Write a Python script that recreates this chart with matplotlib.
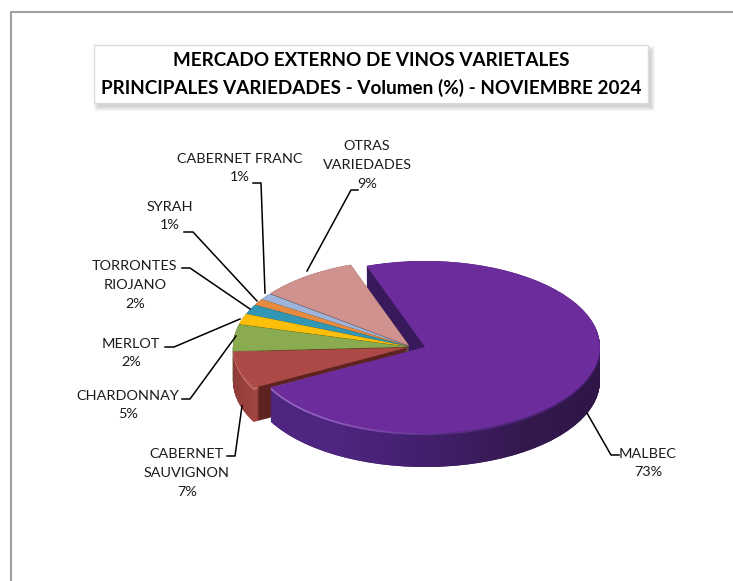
import numpy as np
import matplotlib
matplotlib.use('Agg')
import matplotlib.pyplot as plt
from matplotlib.patches import Rectangle
from matplotlib.path import Path
from matplotlib.colors import LinearSegmentedColormap

# slices, clockwise from the exploded one
varieties = ['MALBEC', 'CABERNET\nSAUVIGNON', 'CHARDONNAY', 'MERLOT',
             'TORRONTES\nRIOJANO', 'SYRAH', 'CABERNET FRANC', 'OTRAS\nVARIEDADES']
shares = [72.6, 7.0, 5.0, 2.0, 1.8, 1.2, 1.2, 9.2]
percent_labels = ['73%', '7%', '5%', '2%', '2%', '1%', '1%', '9%']
top_colors = ['#6c2c9c', '#ab4a46', '#8aab50', '#fdbf0a', '#3197b4', '#e58a3e', '#9db5dc', '#cf928f']
wall_colors = ['#381a5c', '#5e2320', '#4e6328', '#8a6a00', '#1d5c6e', '#84501f', '#5b6a80', '#6b4a4a']

W, H = 733, 581
RX, RY = 175.0, 86.0
THICK = 34
CENTER_REST = (411, 347)
CENTER_MALBEC = (425, 347)
START = 109.5

fig = plt.figure(figsize=(W/100, H/100), dpi=100)
fig.patch.set_facecolor('white')

# pie axes: one data unit is RX px across and RY px down, so the pie lies flat
ax = fig.add_axes([0, 0, 1, 1])
ax.set_facecolor('none')

def px(x, y):
    return (x - CENTER_REST[0])/RX, (CENTER_REST[1] - y)/RY

def draw_slice(i, center, color):
    wedges, _ = ax.pie(shares, radius=1, center=center, startangle=START, counterclock=False,
                       colors=[color]*len(shares), wedgeprops={'linewidth': 0})
    for j, w in enumerate(wedges):
        if j != i:
            w.remove()
    return wedges[i]

def gradient_wall(i, center, xs, colors, ymin_px=None, layers=THICK):
    # layers of the slice, filled with a left-right gradient
    paths = []
    for k in range(layers + 1):
        c = (center[0], center[1] - k/RY)
        w = draw_slice(i, c, 'none')
        paths.append(w.get_path().deepcopy())
        w.remove()
    clip = Path.make_compound_path(*paths)
    x0, _ = px(xs[0], 0)
    x1, _ = px(xs[-1], 0)
    y_top = px(0, ymin_px if ymin_px else 200)[1]
    y_bot = px(0, 520)[1]
    stops = [(x - xs[0])/(xs[-1] - xs[0]) for x in xs]
    cmap = LinearSegmentedColormap.from_list('wall', list(zip(stops, colors)), N=512)
    im = ax.imshow(np.linspace(0, 1, 512)[None, :], extent=(x0, x1, y_bot, y_top), cmap=cmap,
                   aspect='auto', origin='upper', interpolation='bilinear', zorder=1)
    im.set_clip_path(clip, ax.transData)
    return im

c_rest = px(*CENTER_REST)
c_malbec = px(*CENTER_MALBEC)

zo = 1
# malbec wall first: only its cut face shows, in the notch next to OTRAS
gradient_wall(0, c_malbec, [230, 620], ['#381a5c', '#381a5c'])

# rest of the pie, back to front
for i in [7, 6, 5, 4, 3, 2, 1]:
    zo += 1
    gap = 0.018
    mid = np.radians(START - 3.6*(sum(shares[:i]) + shares[i]/2))
    c = (c_rest[0] + gap*np.cos(mid), c_rest[1] + gap*np.sin(mid))
    if i == 1:
        im = gradient_wall(i, c, [230, 257, 259, 420],
                           ['#8c3a36', '#a34642', '#5e2320', '#5e2320'])
    else:
        im = gradient_wall(i, c, [230, 420], [wall_colors[i], wall_colors[i]])
    im.set_zorder(zo)
    if i == 1:
        # lighter rim along the front edge
        zo += 1
        gradient_wall(i, c, [230, 257, 259, 420], ['#c4716c', '#c4716c', '#5e2320', '#5e2320'],
                      layers=2).set_zorder(zo)
    zo += 1
    draw_slice(i, c, top_colors[i]).set_zorder(zo)

# malbec front wall, rim and top
zo += 1
gradient_wall(0, c_malbec, [262, 330, 430, 520, 600],
              ['#4e2580', '#4f2682', '#42206c', '#34194f', '#2e1648'], ymin_px=362).set_zorder(zo)
zo += 1
gradient_wall(0, c_malbec, [262, 340, 450, 600],
              ['#9c6fc6', '#8a55b8', '#5c2c88', '#3a1c60'], ymin_px=362, layers=2).set_zorder(zo)
zo += 1
draw_slice(0, c_malbec, top_colors[0]).set_zorder(zo)

ax.set_aspect('auto')
ax.set_xlim(px(0, 0)[0], px(W, 0)[0])
ax.set_ylim(px(0, H)[1], px(0, 0)[1])
ax.axis('off')

# overlay in picture pixels for frame, title and labels
ov = fig.add_axes([0, 0, 1, 1])
ov.set_xlim(0, W)
ov.set_ylim(H, 0)
ov.axis('off')
ov.patch.set_alpha(0)

ov.plot([11, 11, 733], [581, 12, 12], color='#a0a0a0', lw=1.5)

# soft shadow behind the title box, falling to the lower right
for grow in range(5):
    ov.add_patch(Rectangle((98 - grow, 50 - grow), 553 + 2*grow, 57 + 2*grow, fc='black',
                           alpha=0.035, ec='none'))
ov.add_patch(Rectangle((93.5, 44.5), 554, 58.5, fc='white', ec='#dcdcdc', lw=1))
ov.text(371, 61, 'MERCADO EXTERNO DE VINOS VARIETALES', ha='center', va='center',
        fontsize=13.6, fontweight='bold', family='Lato', color='black')
ov.text(371, 88, 'PRINCIPALES VARIEDADES - Volumen (%) - NOVIEMBRE 2024', ha='center', va='center',
        fontsize=13.6, fontweight='bold', family='Lato', color='black')

label_xy = [(648, 463), (187, 473), (128, 405), (131, 353), (135, 285), (170, 216), (240, 168), (367, 165)]
leaders = [[(619, 455), (611, 455), (587, 413)],
           [(227, 456), (235, 456), (242, 406)],
           [(182, 399), (190, 399), (236, 336)],
           [(165, 347), (174, 347), (240, 319)],
           [(182, 268), (190, 268), (250, 309)],
           [(184, 232), (193, 232), (257, 301)],
           [(253, 183), (261, 183), (265, 293)],
           [(358, 190), (351, 190), (307, 271)]]

for name, pct, (x, y), line in zip(varieties, percent_labels, label_xy, leaders):
    ov.text(x, y, name + '\n' + pct, ha='center', va='center', fontsize=10.4, family='Lato',
            color='#1a1a1a', linespacing=1.66)
    ov.plot([p[0] for p in line], [p[1] for p in line], color='black', lw=1.1)

fig.savefig('out.png', dpi=100)
